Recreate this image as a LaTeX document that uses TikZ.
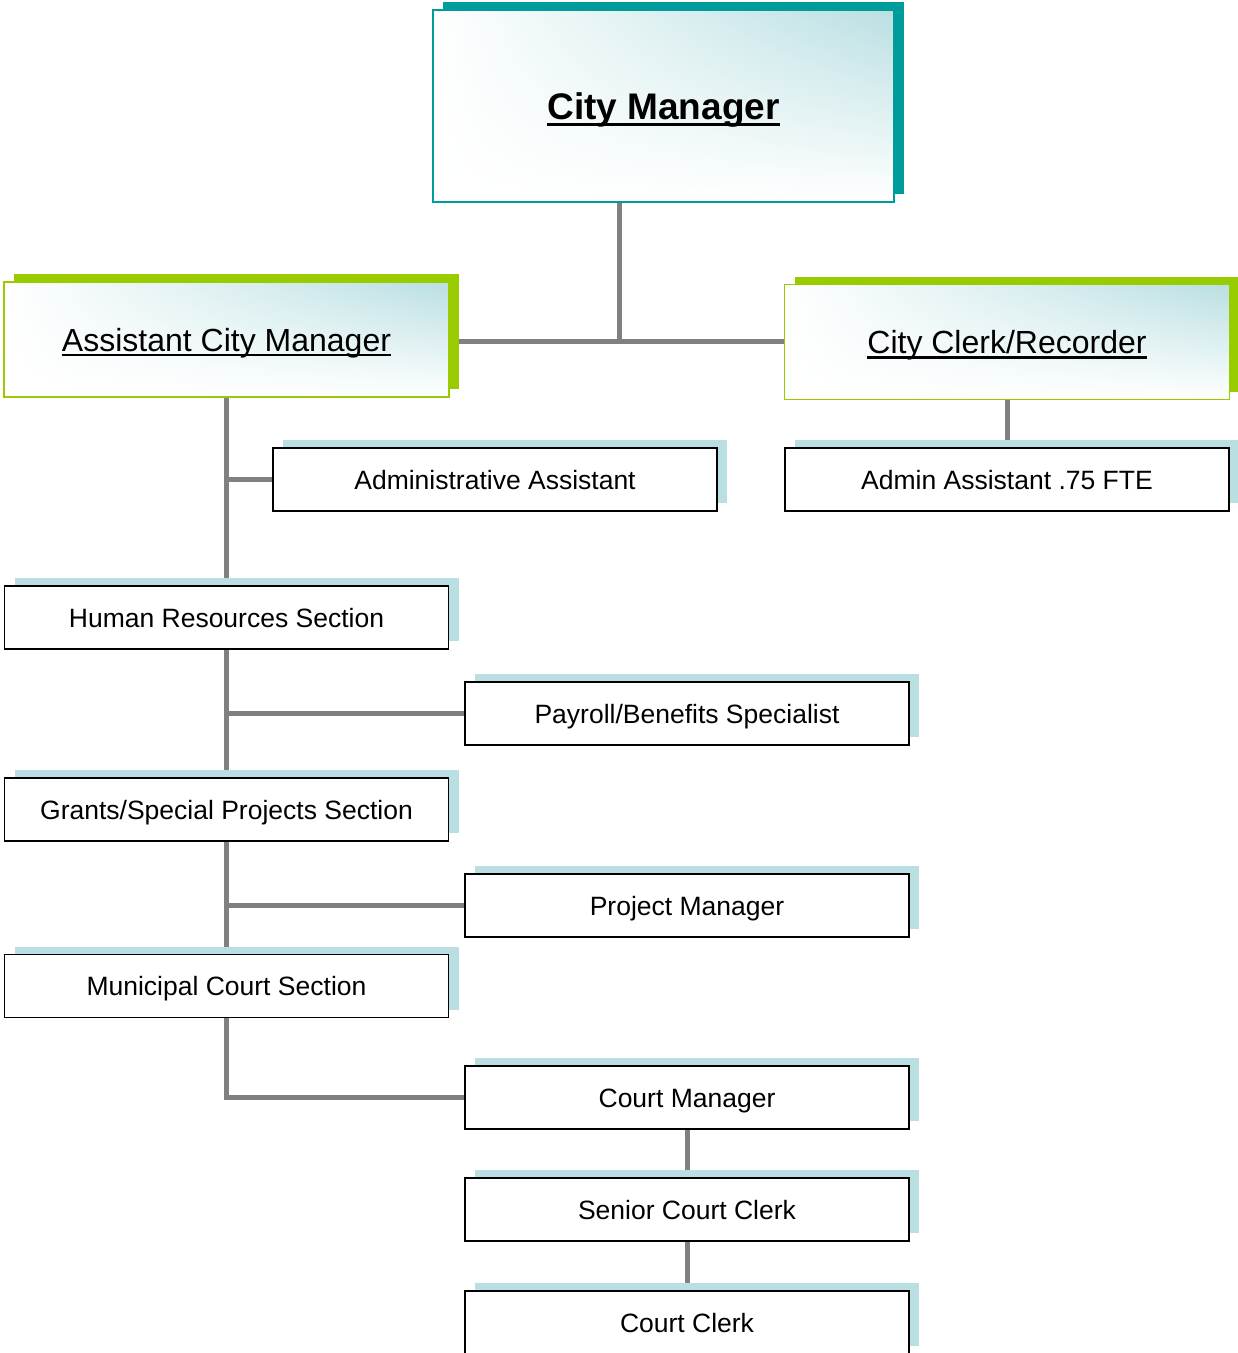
\documentclass[tikz,border=0pt]{standalone}
\usepackage{fontspec}
\setmainfont{Liberation Sans}
\usetikzlibrary{shadows,shadings}

\definecolor{cmteal}{RGB}{0,155,155}
\definecolor{lime}{RGB}{153,204,0}
\definecolor{paleteal}{RGB}{185,223,226}
\definecolor{linkgray}{RGB}{128,128,128}

\pgfdeclarelayer{back}
\pgfsetlayers{back,main}

% underline with explicit offset (#1) and thickness (#2)
\newcommand\ulword[3]{\setbox0=\hbox{#3}\rlap{\rule[#1]{\wd0}{#2}}\box0}

\tikzset{
  headbox/.style={shade, upper left=white, lower left=white, lower right=white,
    upper right=paleteal, inner sep=0pt, align=center},
  cmbox/.style={headbox, draw=cmteal, line width=1.6pt,
    minimum width=461pt, minimum height=192pt,
    general shadow={fill=cmteal, shadow xshift=10pt, shadow yshift=8pt},
    font=\fontsize{37}{44}\selectfont\bfseries, text height=26.5pt, text depth=0pt},
  subbox/.style={headbox, draw=lime, line width=1.4pt,
    minimum width=445pt, minimum height=115pt,
    general shadow={fill=lime, shadow xshift=10pt, shadow yshift=8pt},
    font=\fontsize{32}{38}\selectfont, text height=23pt, text depth=0pt},
  staffbox/.style={draw=black, line width=1.6pt, fill=white,
    minimum width=444pt, minimum height=63pt, inner sep=0pt,
    general shadow={fill=paleteal, shadow xshift=10pt, shadow yshift=8pt},
    font=\fontsize{26.5}{32}\selectfont, text height=19pt, text depth=0pt},
  link/.style={draw=linkgray, line width=5pt}
}

\begin{document}
\begin{tikzpicture}[x=1pt,y=-1pt]
\useasboundingbox (0,0) rectangle (1238,1353);

% top level
\node[cmbox] (cm) at (663.5,106) {\ulword{-7pt}{2.8pt}{City Manager}};

% second level
\node[subbox] (acm) at (226.5,339.5) {\ulword{-5pt}{2.5pt}{Assistant City Manager}};
\node[subbox] (clerk) at (1007,342) {\ulword{-5pt}{2.5pt}{City Clerk/Recorder}};

% staff and sections
\node[staffbox] (aa) at (495,479.5) {Administrative Assistant};
\node[staffbox] (caa) at (1007,479.5) {Admin Assistant .75 FTE};
\node[staffbox] (hr) at (226.5,617.5) {Human Resources Section};
\node[staffbox] (pay) at (687,713.5) {Payroll/Benefits Specialist};
\node[staffbox] (gr) at (226.5,809.5) {Grants/Special Projects Section};
\node[staffbox] (pm) at (687,905.5) {Project Manager};
\node[staffbox] (mc) at (226.5,986) {Municipal Court Section};
\node[staffbox] (cmgr) at (687,1097.5) {Court Manager};
\node[staffbox] (scc) at (687,1209.5) {Senior Court Clerk};
\node[staffbox] (cc) at (687,1322.5) {Court Clerk};

\coordinate (hub) at (619,341);

\begin{pgfonlayer}{back}
  \draw[link] (cm.south -| hub) -- (hub);
  \draw[link] (acm.east |- hub) -- (clerk.west |- hub);
  \draw[link] (acm.south) -- (hr.north);
  \draw[link] (acm.south |- aa.west) -- (aa.west);
  \draw[link] (clerk.south) -- (caa.north);
  \draw[link] (hr.south) -- (gr.north);
  \draw[link] (hr.south |- pay.west) -- (pay.west);
  \draw[link] (gr.south) -- (mc.north);
  \draw[link] (gr.south |- pm.west) -- (pm.west);
  \draw[link] (mc.south) -- (mc.south |- cmgr.west) -- (cmgr.west);
  \draw[link] (cmgr.south) -- (scc.north);
  \draw[link] (scc.south) -- (cc.north);
\end{pgfonlayer}
\end{tikzpicture}
\end{document}
